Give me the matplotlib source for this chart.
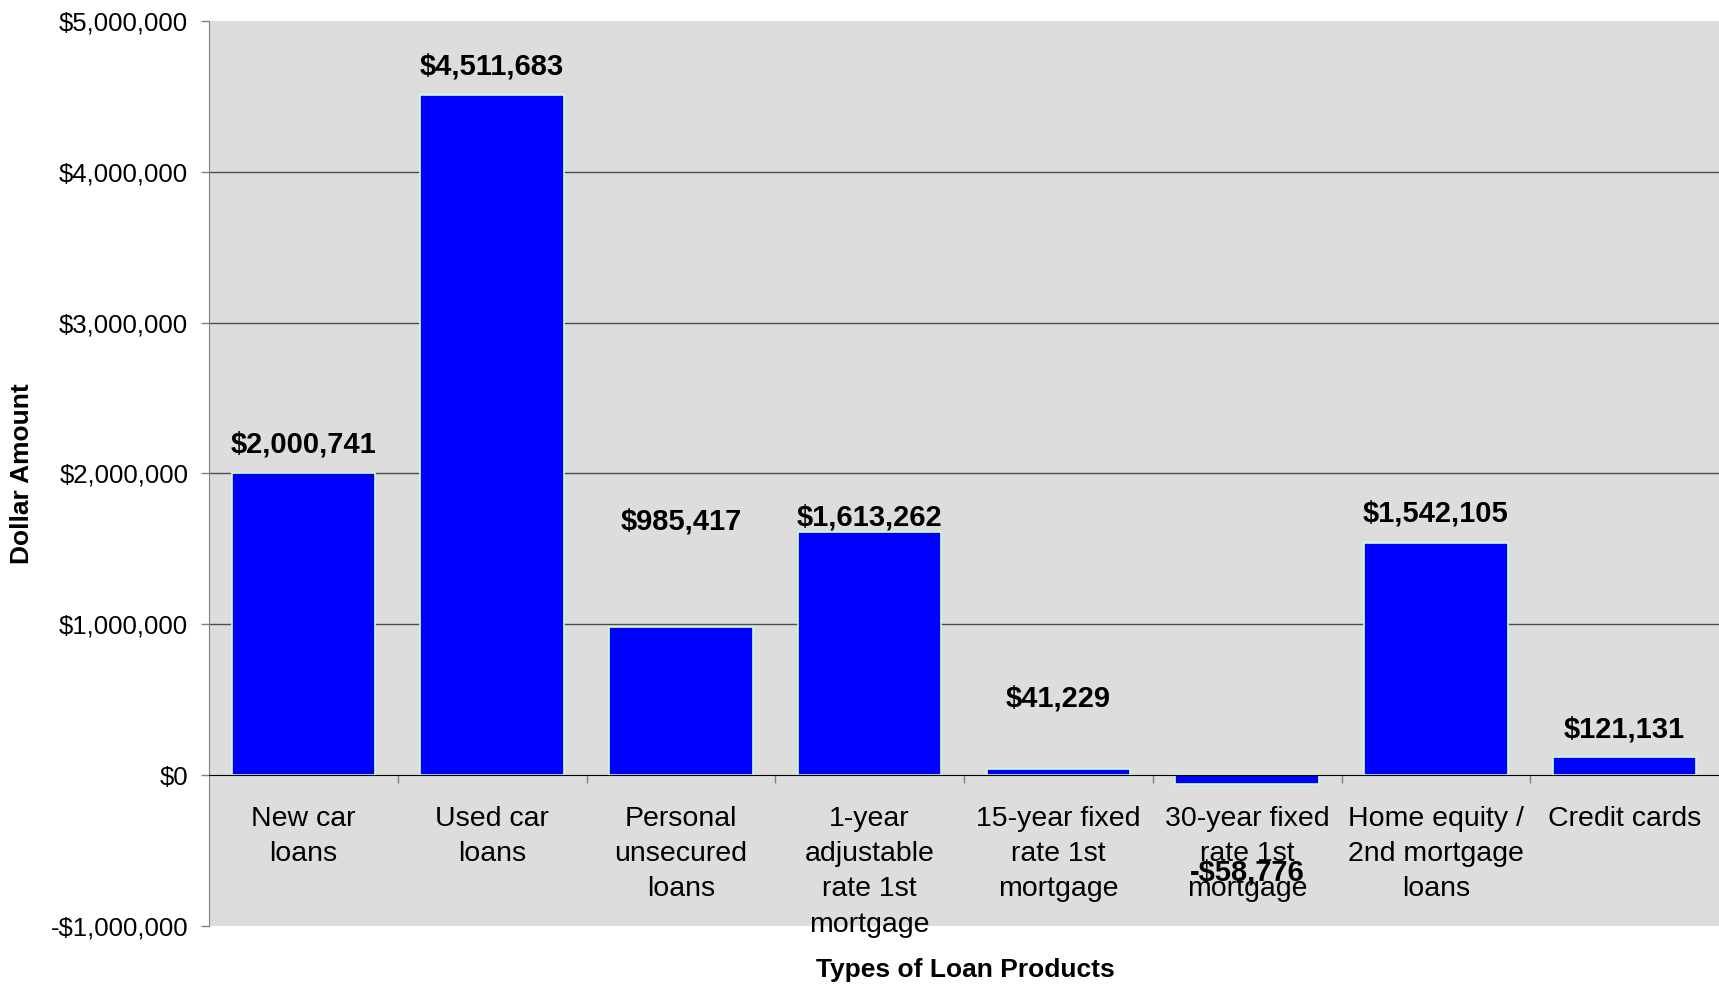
# Loan product dollar amounts, one bar per product with value labels.

import matplotlib
matplotlib.use("Agg")
import matplotlib.pyplot as plt
from matplotlib.ticker import FuncFormatter, FixedLocator

plt.rcParams["font.family"] = ["Liberation Sans", "DejaVu Sans"]

products = [
    "New car\nloans",
    "Used car\nloans",
    "Personal\nunsecured\nloans",
    "1-year\nadjustable\nrate 1st\nmortgage",
    "15-year fixed\nrate 1st\nmortgage",
    "30-year fixed\nrate 1st\nmortgage",
    "Home equity /\n2nd mortgage\nloans",
    "Credit cards",
]
amounts = [2000741, 4511683, 985417, 1613262, 41229, -58776, 1542105, 121131]

# vertical offset of each value label from the bar end, in points
label_offsets_pt = [21, 20.5, 75.5, 10, 50.5, -64, 21, 20]


def dollars(v, _pos=None):
    if v < 0:
        return f"-${abs(v):,.0f}"
    return f"${v:,.0f}"


def main():
    fig = plt.figure(figsize=(17.19, 9.88), dpi=100)
    ax = fig.add_axes([0.1216, 0.0628, 0.8784, 0.9159])
    ax.set_facecolor("#dddddd")

    x = list(range(len(products)))
    bars = ax.bar(x, amounts, width=0.76, color="#0000ff",
                  edgecolor="#ccffcc", linewidth=1.2, zorder=3)

    for bar, val, off in zip(bars, amounts, label_offsets_pt):
        end = val if val < 0 else bar.get_height()
        ax.annotate(dollars(val), (bar.get_x() + bar.get_width() / 2, end),
                    xytext=(0, off), textcoords="offset points",
                    ha="center", va="center", fontsize=21,
                    fontweight="bold", zorder=5)

    ax.set_xlim(-0.5, len(products) - 0.5)
    ax.set_ylim(-1000000, 5000000)

    # y axis
    ax.yaxis.set_major_locator(FixedLocator(range(-1000000, 5000001, 1000000)))
    ax.yaxis.set_major_formatter(FuncFormatter(dollars))
    ax.tick_params(axis="y", direction="out", length=6, width=1,
                   color="#808080", pad=9, labelsize=18.5)
    for gy in range(1000000, 5000000, 1000000):
        ax.axhline(gy, color="#4d4d4d", linewidth=1, zorder=1)

    # x axis sits on zero
    ax.spines["bottom"].set_position(("data", 0))
    ax.spines["bottom"].set_color("black")
    ax.spines["bottom"].set_zorder(4)
    ax.spines["left"].set_color("#808080")
    ax.spines["top"].set_visible(False)
    ax.spines["right"].set_visible(False)

    ax.set_xticks(x)
    ax.set_xticklabels(products, fontsize=20.5, linespacing=1.47)
    ax.tick_params(axis="x", which="major", length=0, pad=22)
    ax.set_xticks([i + 0.5 for i in x[:-1]], minor=True)
    ax.tick_params(axis="x", which="minor", direction="out", length=6,
                   width=1, color="#808080")

    fig.text(0.0128, 0.5205, "Dollar Amount", rotation=90, ha="center",
             va="center", fontsize=19, fontweight="bold")
    fig.text(0.5614, 0.0182, "Types of Loan Products", ha="center",
             va="center", fontsize=19, fontweight="bold")

    fig.savefig("out.png", dpi=100)


if __name__ == "__main__":
    main()
